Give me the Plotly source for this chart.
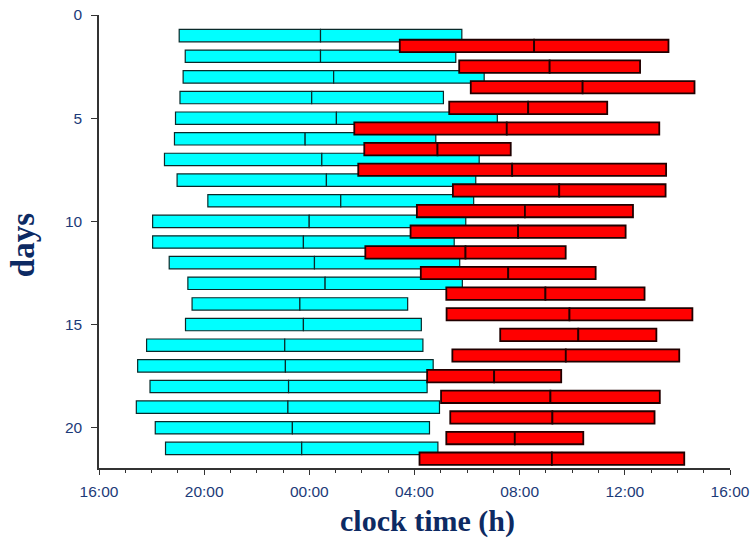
import plotly.graph_objects as go

# Cyan episodes (day n), clock hours; values > 24 are next day
cyan_days = list(range(1, 22))
cyan_start = [19.05, 19.28, 19.20, 19.08, 18.91, 18.87, 18.49, 18.97, 20.14, 18.04, 18.04,
              18.67, 19.38, 19.54, 19.29, 17.81, 17.47, 17.94, 17.42, 18.14, 18.53]
cyan_end = [29.80, 29.57, 30.65, 29.10, 31.15, 28.81, 30.46, 30.33, 30.25, 29.95, 29.51,
            29.72, 29.82, 27.74, 28.26, 28.32, 28.71, 28.48, 28.95, 28.57, 28.89]

# Red episodes (day n + 0.5)
red_days = [d + 0.5 for d in range(1, 22)]
red_start = [27.44, 29.70, 30.14, 29.32, 25.71, 26.09, 25.86, 29.46, 28.09, 27.85, 26.13,
             28.24, 29.21, 29.22, 31.26, 29.44, 28.48, 29.01, 29.36, 29.21, 28.19]
red_end = [37.66, 36.58, 38.65, 35.33, 37.31, 31.66, 37.57, 37.55, 36.31, 36.03, 33.75,
           34.89, 36.75, 38.57, 37.20, 38.07, 33.58, 37.33, 37.13, 34.42, 38.26]

x_tickvals = [16, 20, 24, 28, 32, 36, 40]
x_ticktext = ["16:00", "20:00", "00:00", "04:00", "08:00", "12:00", "16:00"]
y_tickvals = [0, 5, 10, 15, 20]

fig = go.Figure()


def add_halves(days, starts, ends, color, line_color, line_width):
    mids = [(s + e) / 2 for s, e in zip(starts, ends)]
    for b, ln in ((starts, [m - s for s, m in zip(starts, mids)]),
                  (mids, [e - m for m, e in zip(mids, ends)])):
        fig.add_trace(go.Bar(
            orientation="h", y=days, base=b, x=ln,
            width=0.6, marker=dict(color=color, line=dict(color=line_color, width=line_width)),
            showlegend=False, hoverinfo="skip"))


add_halves(cyan_days, cyan_start, cyan_end, "#00FFFF", "#0a2a2a", 1.2)
add_halves(red_days, red_start, red_end, "#FF0000", "#200000", 1.8)

tick_font = dict(family="Liberation Sans, Arial, sans-serif", size=15.5, color="#1c3a78")
title_color = "#0d2a63"
serif = "Liberation Serif, Times New Roman, serif"

fig.update_layout(
    width=752, height=539,
    margin=dict(l=99, r=22, t=15, b=71),
    paper_bgcolor="white", plot_bgcolor="white",
    barmode="overlay",
    xaxis=dict(
        range=[16, 40], tickvals=x_tickvals, ticktext=x_ticktext,
        ticks="outside", ticklen=5, tickwidth=1.2, tickcolor="#333",
        minor=dict(dtick=1, tick0=16, ticks="outside", ticklen=3, tickwidth=1, tickcolor="#333"),
        showline=True, linecolor="#333", linewidth=1.5,
        showgrid=False, zeroline=False, tickfont=tick_font,
        ticklabelstandoff=4, automargin=False,
    ),
    yaxis=dict(
        range=[21.95, 0], tickvals=y_tickvals,
        ticks="outside", ticklen=6, tickwidth=1.2, tickcolor="#333",
        showline=True, linecolor="#333", linewidth=1.5,
        showgrid=False, zeroline=False, tickfont=tick_font,
        ticklabelstandoff=6, automargin=False,
    ),
    annotations=[
        dict(text="<b>clock time (h)</b>", xref="paper", yref="paper",
             x=(427 - 99) / 631, y=-(521 - 467.7) / 452.7, xanchor="center", yanchor="middle",
             showarrow=False, font=dict(family=serif, size=30, color=title_color)),
        dict(text="<b>days</b>", xref="paper", yref="paper", textangle=-90,
             x=-(99 - 23) / 631, y=1 - (245 - 15) / 452.7, xanchor="center", yanchor="middle",
             showarrow=False, font=dict(family=serif, size=33, color=title_color)),
    ],
)

# remove the browser's default 8px body margin so the figure sits at the page origin
fig.write_html("out.html", config={"displayModeBar": False},
               post_script="document.body.style.margin='0';")
